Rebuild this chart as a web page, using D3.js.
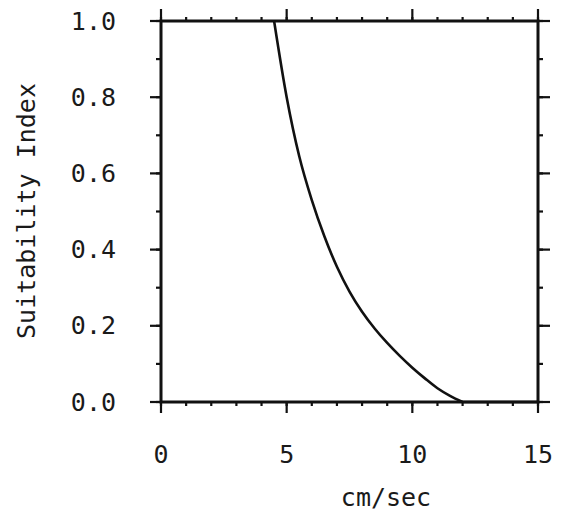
<!DOCTYPE html>
<html><head><meta charset="utf-8">
<script src="https://cdn.jsdelivr.net/npm/d3@7"></script>
<style>
html,body{margin:0;padding:0;background:#fff;}
svg text{font-family:"DejaVu Sans Mono",monospace;fill:#1a1a1a;}
</style></head>
<body><svg id="c" width="576" height="516"></svg>
<script>
// Data
const velocity = [4.5, 5, 5.5, 6, 6.5, 7, 7.5, 8, 8.5, 9, 9.5, 10, 10.5, 11, 11.5, 12];
const suitability = [1.0, 0.80, 0.645, 0.53, 0.435, 0.355, 0.29, 0.237, 0.193, 0.155, 0.121, 0.09, 0.062, 0.036, 0.016, 0];
const flatVelocity = [12, 15];
const flatSuitability = [0, 0];
const xTicks = [0, 5, 10, 15];
const yTicks = [0.0, 0.2, 0.4, 0.6, 0.8, 1.0];
const xMinor = d3.range(0, 16, 1);
const yMinor = d3.range(0, 1.01, 0.1);
const xTitle = "cm/sec";
const yTitle = "Suitability Index";

const svg = d3.select("#c");
const L = 161, R = 538, T = 21, B = 402;
const x = d3.scaleLinear().domain([0, 15]).range([L, R]);
const y = d3.scaleLinear().domain([0, 1]).range([B, T]);

// minor ticks
const g = svg.append("g").attr("stroke", "#111").attr("stroke-width", 2.2);
xMinor.forEach(v => {
  g.append("line").attr("x1", x(v)).attr("x2", x(v)).attr("y1", B).attr("y2", B + 4);
  g.append("line").attr("x1", x(v)).attr("x2", x(v)).attr("y1", T).attr("y2", T - 4);
});
yMinor.forEach(v => {
  g.append("line").attr("y1", y(v)).attr("y2", y(v)).attr("x1", L).attr("x2", L - 5);
  g.append("line").attr("y1", y(v)).attr("y2", y(v)).attr("x1", R).attr("x2", R + 5);
});
// major ticks
xTicks.forEach(v => {
  g.append("line").attr("x1", x(v)).attr("x2", x(v)).attr("y1", B).attr("y2", B + 11);
  g.append("line").attr("x1", x(v)).attr("x2", x(v)).attr("y1", T).attr("y2", T - 12);
});
yTicks.forEach(v => {
  g.append("line").attr("y1", y(v)).attr("y2", y(v)).attr("x1", L).attr("x2", L - 11);
  g.append("line").attr("y1", y(v)).attr("y2", y(v)).attr("x1", R).attr("x2", R + 12);
});

// frame
svg.append("rect").attr("x", L).attr("y", T).attr("width", R - L).attr("height", B - T)
  .attr("fill", "none").attr("stroke", "#111").attr("stroke-width", 3);

// curve
const pts = velocity.map((v, i) => [v, suitability[i]]);
const line = d3.line().x(d => x(d[0])).y(d => y(d[1])).curve(d3.curveMonotoneX);
svg.append("path").attr("d", line(pts)).attr("fill", "none").attr("stroke", "#111").attr("stroke-width", 2.6);
const flat = flatVelocity.map((v, i) => [v, flatSuitability[i]]);
svg.append("path").attr("d", d3.line().x(d => x(d[0])).y(d => y(d[1]))(flat))
  .attr("fill", "none").attr("stroke", "#111").attr("stroke-width", 2.6);

// labels
const fs = 25;
xTicks.forEach(v => {
  svg.append("text").attr("x", x(v)).attr("y", 454).attr("text-anchor", "middle")
    .attr("dominant-baseline", "central").attr("font-size", fs).text(v);
});
yTicks.forEach(v => {
  svg.append("text").attr("x", 116).attr("y", y(v)).attr("text-anchor", "end")
    .attr("dominant-baseline", "central").attr("font-size", fs).text(d3.format(".1f")(v));
});
svg.append("text").attr("x", 386).attr("y", 497).attr("text-anchor", "middle")
  .attr("dominant-baseline", "central").attr("font-size", fs).text(xTitle);
svg.append("text").attr("transform", "translate(26,211) rotate(-90)").attr("text-anchor", "middle")
  .attr("dominant-baseline", "central").attr("font-size", fs).text(yTitle);
</script></body></html>
